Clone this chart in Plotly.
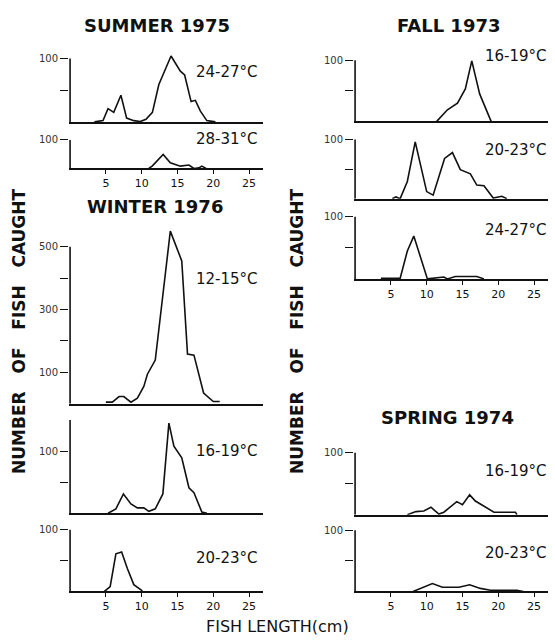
import plotly.graph_objects as go

# ---------------- DATA (fish length in cm, number of fish caught) ----------------
SUMMER_24_27_X = [3.4, 4.6, 5.3, 6.1, 7.1, 7.9, 8.9, 9.8, 10.6, 11.5, 12.4, 14.1, 15.4, 16.0, 16.9, 17.5, 18.2, 19.1, 20.3]
SUMMER_24_27_Y = [0, 2, 21, 15, 42, 6, 2, 0.5, 4, 15, 59, 104, 80, 74, 32, 34, 17, 2, 0]

SUMMER_28_31_X = [11.0, 11.5, 13.0, 14.0, 15.4, 16.6, 17.3, 18.0, 18.4, 19.0]
SUMMER_28_31_Y = [0, 9, 49, 20, 8, 12, 0, 2, 8, 0]

WINTER_12_15_X = [5.0, 5.9, 6.85, 7.5, 8.5, 9.4, 10.3, 10.8, 11.9, 14.0, 15.6, 16.4, 17.3, 18.65, 20.0, 20.9]
WINTER_12_15_Y = [5, 5, 23, 23, 5, 18, 55, 94, 139, 550, 455, 158, 155, 34, 7, 7]

WINTER_16_19_X = [5.3, 6.4, 7.45, 8.5, 9.4, 10.3, 11.0, 11.9, 12.96, 13.8, 14.5, 15.6, 16.6, 17.3, 18.4, 19.1]
WINTER_16_19_Y = [0, 7, 31, 15, 8.5, 8.5, 3, 7, 31, 145, 108, 89, 41, 33, 2, 0]

WINTER_20_23_X = [4.8, 5.6, 6.4, 7.2, 8.0, 8.9, 10.1]
WINTER_20_23_Y = [0, 8, 61, 64, 37, 11, 1]

FALL_16_19_X = [11.4, 12.9, 14.3, 15.4, 16.3, 17.4, 19.0]
FALL_16_19_Y = [0, 19, 30, 53, 99, 45, 0]

FALL_20_23_X = [5.2, 5.7, 6.3, 7.3, 8.4, 10.0, 10.9, 12.5, 13.6, 14.7, 16.1, 17.0, 18.0, 19.3, 20.5, 21.2]
FALL_20_23_Y = [0, 3, 0, 29, 96, 12, 6, 68, 78, 49, 42, 23, 22, 1, 4, 0]

FALL_24_27_X = [3.6, 6.3, 7.3, 8.2, 10.1, 12.4, 12.9, 14.0, 17.0, 18.0]
FALL_24_27_Y = [1, 1, 45, 69, 0, 3, 0, 4, 4, 0]

SPRING_16_19_X = [7.3, 8.5, 9.6, 10.6, 11.7, 12.4, 14.2, 15.0, 16.0, 16.8, 19.4, 22.4, 22.6]
SPRING_16_19_Y = [0, 5, 6, 12, 1, 4, 21, 16, 32, 22, 4, 4, 0]

SPRING_20_23_X = [8.1, 10.8, 12.2, 14.5, 16.0, 17.5, 18.9, 22.6, 23.5]
SPRING_20_23_Y = [0, 13, 7, 7, 11, 5, 2, 2, 0]

X_TICKS = [5, 10, 15, 20, 25]
X_TICK_LABELS = ["5", "10", "15", "20", "25"]

TITLES = ["SUMMER 1975", "WINTER 1976", "FALL 1973", "SPRING 1974"]
Y_TITLE = "NUMBER OF FISH CAUGHT"
X_TITLE = "FISH LENGTH(cm)"

# ---------------- LAYOUT ----------------
W, H = 555, 640
COL_X = {"L": (69, 263.4), "R": (354, 548.4)}
X_MAX = 27

# (x, y, column, baseline px, px per unit, range top, axis top, tickvals, ticktext, show x labels, label, label px (right x, y))
panels = [
    (SUMMER_24_27_X, SUMMER_24_27_Y, "L", 117, 0.64, 110, 100, [50, 100], ["", "100"], False, "24-27°C", (260, 67)),
    (SUMMER_28_31_X, SUMMER_28_31_Y, "L", 164, 0.29, 100, 100, [100], ["100"], True, "28-31°C", (260, 134)),
    (WINTER_12_15_X, WINTER_12_15_Y, "L", 401.5, 0.3168, 570, 500, [100, 200, 300, 400, 500], ["100", "", "300", "", "500"], False, "12-15°C", (260, 276)),
    (WINTER_16_19_X, WINTER_16_19_Y, "L", 512, 0.627, 150, 150, [50, 100], ["", "100"], False, "16-19°C", (260, 449)),
    (WINTER_20_23_X, WINTER_20_23_Y, "L", 591, 0.624, 102, 100, [50, 100], ["", "100"], True, "20-23°C", (260, 557)),
    (FALL_16_19_X, FALL_16_19_Y, "R", 116.5, 0.617, 104, 100, [50, 100], ["", "100"], False, "16-19°C", (549, 50)),
    (FALL_20_23_X, FALL_20_23_Y, "R", 194.5, 0.597, 102, 100, [50, 100], ["", "100"], False, "20-23°C", (549, 145)),
    (FALL_24_27_X, FALL_24_27_Y, "R", 275.5, 0.627, 102, 100, [50, 100], ["", "100"], True, "24-27°C", (549, 226)),
    (SPRING_16_19_X, SPRING_16_19_Y, "R", 513.5, 0.626, 102, 100, [50, 100], ["", "100"], False, "16-19°C", (549, 469)),
    (SPRING_20_23_X, SPRING_20_23_Y, "R", 591, 0.617, 102, 100, [50, 100], ["", "100"], True, "20-23°C", (549, 552)),
]

FONT = "DejaVu Sans"
INK = "#111111"

fig = go.Figure()
layout = dict(
    width=W, height=H, margin=dict(l=0, r=0, t=0, b=0),
    paper_bgcolor="white", plot_bgcolor="white", showlegend=False,
    font=dict(family=FONT, color=INK),
)
shapes = []
annotations = []


def px_x(p):
    return p / W


def px_y(p):
    return 1 - p / H


for i, (xs, ys, col, base, ppu, rtop, atop, tv, tt, showx, lab, labpos) in enumerate(panels, start=1):
    xa = "x" if i == 1 else f"x{i}"
    ya = "y" if i == 1 else f"y{i}"
    x0, x1 = COL_X[col]
    top_px = base - rtop * ppu
    layout["xaxis" if i == 1 else f"xaxis{i}"] = dict(
        domain=[px_x(x0), px_x(x1)], range=[-0.15, X_MAX], anchor=ya,
        showgrid=False, zeroline=False, showline=True, linecolor=INK, linewidth=1.6,
        tickvals=X_TICKS if showx else [], ticktext=X_TICK_LABELS if showx else [],
        ticks="outside" if showx else "", ticklen=4, tickwidth=1.2, tickcolor=INK,
        showticklabels=showx, tickfont=dict(size=11, family=FONT, color=INK),
        fixedrange=True,
    )
    layout["yaxis" if i == 1 else f"yaxis{i}"] = dict(
        domain=[px_y(base), px_y(top_px)], range=[0, rtop], anchor=xa,
        showgrid=False, zeroline=False, showline=False,
        tickvals=tv, ticktext=tt, ticks="outside", ticklen=8, tickwidth=1.2, tickcolor=INK,
        tickfont=dict(size=10, family=FONT, color="#333333"), fixedrange=True,
    )
    fig.add_trace(go.Scatter(x=xs, y=ys, mode="lines", xaxis=xa, yaxis=ya,
                             line=dict(color=INK, width=1.6), hoverinfo="skip"))
    # vertical axis line up to the top tick
    shapes.append(dict(type="line", xref=xa, yref=ya, x0=0, x1=0, y0=0, y1=atop,
                       line=dict(color=INK, width=1.6)))
    annotations.append(dict(text=lab, x=px_x(labpos[0]), y=px_y(labpos[1]), xref="paper", yref="paper",
                            xanchor="right", yanchor="middle", showarrow=False,
                            font=dict(size=15, family=FONT, color=INK)))

title_pos = [(157, 20), (155, 202), (448, 20), (447, 415)]
for t, (tx, ty) in zip(TITLES, title_pos):
    annotations.append(dict(text=t, x=px_x(tx), y=px_y(ty), xref="paper", yref="paper",
                            xanchor="center", yanchor="middle", showarrow=False,
                            font=dict(size=18, family=FONT, color=INK, weight="bold")))

gap = "\u00a0\u00a0\u00a0"
y_title_text = gap.join(Y_TITLE.split(" "))
for xx in (19, 297):
    annotations.append(dict(text=y_title_text, x=px_x(xx), y=px_y(329), xref="paper", yref="paper",
                            xanchor="center", yanchor="middle", showarrow=False, textangle=-90,
                            font=dict(size=17, family=FONT, color=INK, weight="bold")))

annotations.append(dict(text=X_TITLE, x=px_x(277), y=px_y(626), xref="paper", yref="paper",
                        xanchor="center", yanchor="middle", showarrow=False,
                        font=dict(size=16, family=FONT, color=INK)))

layout["shapes"] = shapes
layout["annotations"] = annotations
fig.update_layout(**layout)
fig.write_html("out.html", config={"displayModeBar": False},
               post_script="document.body.style.margin='0';document.body.style.padding='0';")
